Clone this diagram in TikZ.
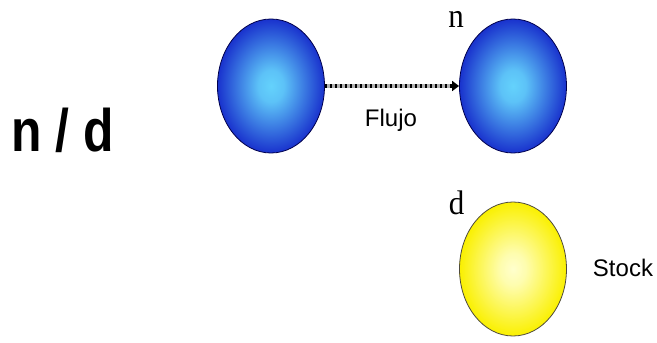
\documentclass[tikz,border=0pt]{standalone}
\usepackage{fontspec}
\setmainfont{Liberation Serif}
\setsansfont{Liberation Sans}
\usetikzlibrary{shapes.geometric,arrows.meta}
\definecolor{bedge}{RGB}{25,50,205}
\definecolor{bcenter}{RGB}{100,210,252}
\definecolor{yedge}{RGB}{250,240,0}
\definecolor{ycenter}{RGB}{255,255,205}
\pgfdeclareradialshading{blueshade}{\pgfpoint{0bp}{0bp}}{color(0bp)=(bcenter); color(6bp)=(bcenter!90!bedge); color(25bp)=(bedge); color(50bp)=(bedge)}
\pgfdeclareradialshading{yellowshade}{\pgfpoint{0bp}{0bp}}{color(0bp)=(ycenter); color(6bp)=(ycenter!85!yedge); color(25bp)=(yedge); color(50bp)=(yedge)}
\tikzset{
  ball/.style={ellipse, minimum width=107pt, minimum height=134pt, inner sep=0pt, draw=#1, line width=0.8pt},
  blueball/.style={ball=black!70!blue, shading=blueshade},
  yellowball/.style={ball=black!80!yellow, shading=yellowshade},
  sanslabel/.style={font=\sffamily\fontsize{24}{24}\selectfont, inner sep=0pt},
  seriflabel/.style={font=\fontsize{31}{31}\selectfont, inner sep=0pt, yscale=1.1},
}
\begin{document}
\begin{tikzpicture}[x=1pt,y=1pt]
\useasboundingbox (0,0) rectangle (657,343);
\node[blueball] (src) at (271,257) {};
\node[blueball] (dst) at (513,257) {};
\node[yellowball] (stock) at (513,74) {};
\draw[gray!60, line width=4.5pt, shorten >=6pt] (src.east) -- (dst.west);
\draw[black, line width=4.5pt, dash pattern=on 2.5pt off 2.5pt, -{Triangle[length=7pt,width=10pt]}] (src.east) -- (dst.west);
\node[sanslabel, anchor=base] (flujo) at (391,216) {Flujo};
\node[sanslabel, anchor=base] (stocklbl) at (623,66) {Stock};
\node[seriflabel, anchor=base] (nlbl) at (456,315) {n};
\node[seriflabel, anchor=base] (dlbl) at (456.5,128) {d};
\node[font=\sffamily\bfseries\fontsize{60}{60}\selectfont, xscale=0.83, inner sep=0pt, anchor=base west] (title) at (11,191) {n / d};
\end{tikzpicture}
\end{document}
